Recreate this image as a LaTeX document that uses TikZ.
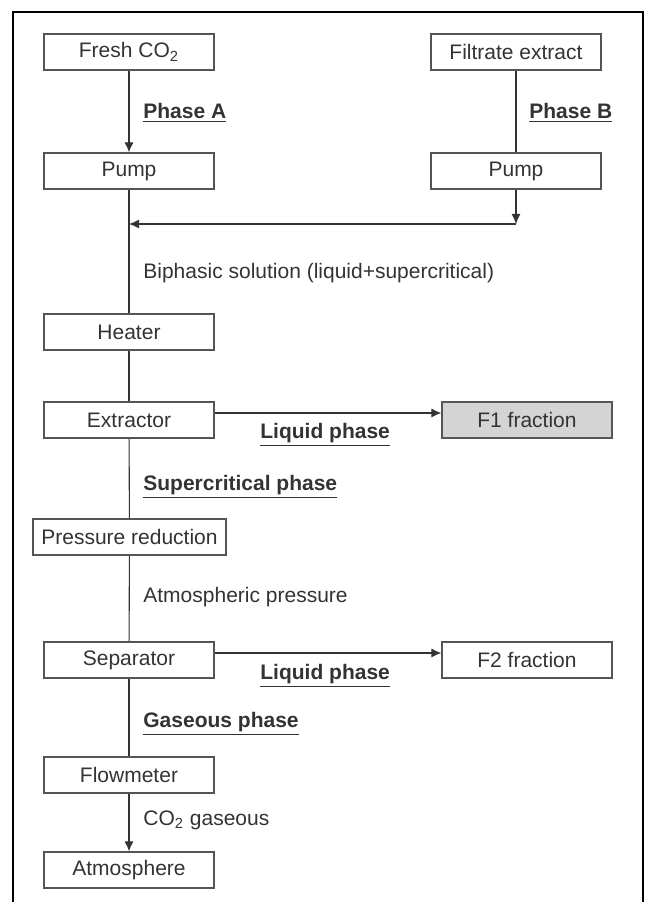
\documentclass[tikz,border=0pt]{standalone}
\usepackage{fontspec}
\setmainfont{Liberation Sans}
\usetikzlibrary{arrows.meta}

\definecolor{boxgray}{HTML}{555555}
\definecolor{txtgray}{HTML}{333333}
\definecolor{fracfill}{HTML}{D4D4D4}

\tikzset{
  unit/.style={draw=boxgray, line width=0.6pt, text=txtgray,
    minimum width=85pt, minimum height=18pt, inner sep=0pt},
  tag/.style={anchor=west, text=txtgray, inner sep=0pt},
  flow/.style={draw=txtgray, line width=0.55pt, -{Latex[length=5pt,width=4.5pt]}},
  pipe/.style={draw=txtgray, line width=0.55pt}
}

\newcommand{\phaselabel}[1]{\underline{\textbf{#1}}}

\begin{document}
\begin{tikzpicture}[x=0.5pt, y=0.5pt, font=\fontsize{10.5}{12}\selectfont]

  % -------- frame --------
  \useasboundingbox (0,0) rectangle (648,902);
  \draw[line width=0.75pt] (13,0) -- (13,890) -- (643,890) -- (643,0);

  % -------- feed lines --------
  \node[unit] (fresh)    at (129,850) {Fresh CO\textsubscript{2}};
  \node[unit] (filtrate) at (516,850) {Filtrate extract};
  \node[unit] (pumpA)    at (129,731) {Pump};
  \node[unit] (pumpB)    at (516,731) {Pump};

  \node[tag] (phA) at (143,789) {\phaselabel{Phase A}};
  \node[tag] (phB) at (529,789) {\phaselabel{Phase B}};

  \draw[flow] (fresh) -- (pumpA);
  \draw[pipe] (filtrate) -- (pumpB);

  % mixing point
  \coordinate (mix)  at (516,678);
  \coordinate (join) at (129,678);
  \draw[flow] (pumpB) -- (mix);
  \draw[flow] (mix) -- (join);

  % -------- main column --------
  \node[tag] (biphasic) at (143,629) {Biphasic solution (liquid+supercritical)};

  \node[unit] (heater)    at (129,570) {Heater};
  \node[unit] (extractor) at (129,482) {Extractor};
  \node[unit, fill=fracfill] (f1) at (527,482) {F1 fraction};
  \node[tag] (liq1) at (260,467) {\phaselabel{Liquid phase}};

  \node[tag] (supercrit) at (143,415) {\phaselabel{Supercritical phase}};
  \node[unit, minimum width=96.5pt] (pressure) at (129.5,365) {Pressure reduction};
  \node[tag] (atmpress) at (143,305) {Atmospheric pressure};

  \node[unit] (separator) at (129,242) {Separator};
  \node[unit] (f2)        at (527,242) {F2 fraction};
  \node[tag] (liq2) at (260,226) {\phaselabel{Liquid phase}};

  \node[tag] (gaseous) at (143,178) {\phaselabel{Gaseous phase}};
  \node[unit] (flowmeter)  at (129,127) {Flowmeter};
  \node[tag] (co2gas) at (143,82) {CO\textsubscript{2} gaseous};
  \node[unit] (atmosphere) at (129,32) {Atmosphere};

  % vertical pipe
  \draw[pipe] (pumpA) -- (heater);
  \draw[pipe] (heater) -- (extractor);
  \draw[pipe] (extractor) -- (pressure);
  \draw[pipe] (pressure) -- (separator);
  \draw[pipe] (separator) -- (flowmeter);
  \draw[flow] (flowmeter) -- (atmosphere);

  % side outlets
  \draw[flow] ([yshift=3.5pt]extractor.east) -- ([yshift=3.5pt]f1.west);
  \draw[flow] ([yshift=3.5pt]separator.east) -- ([yshift=3.5pt]f2.west);

\end{tikzpicture}
\end{document}
